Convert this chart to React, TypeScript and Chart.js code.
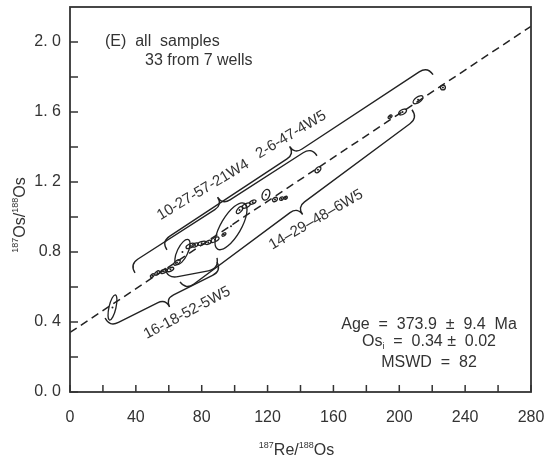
import React, { useEffect, useRef } from 'react';
import { Chart, registerables } from 'chart.js';

Chart.register(...registerables);

// ---- data ----
const xTickValues = [0, 40, 80, 120, 160, 200, 240, 280];
const yTickValues = [0, 0.4, 0.8, 1.2, 1.6, 2.0];
const yTickLabels = ['0. 0', '0. 4', '0.8', '1. 2', '1. 6', '2. 0'];

// samples: 187Re/188Os, 187Os/188Os, 2-sigma errors, error correlation
const reOs = [25.8, 50, 53, 57, 61, 65, 68.3, 73, 76, 80, 84, 88, 93.5, 97.8, 103, 107, 111, 119, 124.5, 128.5, 131, 150.6, 194.4, 202, 211.4, 226.5];
const osOs = [0.483, 0.665, 0.68, 0.69, 0.70, 0.74, 0.80, 0.835, 0.84, 0.85, 0.855, 0.87, 0.90, 0.947, 1.04, 1.065, 1.085, 1.127, 1.10, 1.105, 1.11, 1.27, 1.573, 1.60, 1.67, 1.74];
const errX = [2.7, 1.2, 1.5, 2.0, 2.0, 2.0, 4.6, 2.5, 2.0, 2.5, 2.0, 2.5, 1.2, 9.7, 2.0, 2.5, 2.0, 2.4, 1.5, 1.2, 1.0, 1.8, 1.2, 2.4, 3.0, 1.5];
const errY = [0.072, 0.010, 0.012, 0.012, 0.012, 0.015, 0.072, 0.015, 0.012, 0.012, 0.012, 0.015, 0.010, 0.134, 0.020, 0.015, 0.012, 0.030, 0.012, 0.010, 0.008, 0.017, 0.010, 0.017, 0.023, 0.014];
const errRho = [0.6, 0.5, 0.5, 0.5, 0.5, 0.6, 0.65, 0.6, 0.5, 0.5, 0.5, 0.6, 0.5, 0.7, 0.6, 0.6, 0.5, 0.3, 0.3, 0.3, 0.3, 0.5, 0.5, 0.5, 0.6, 0.0];

// isochron regression line
const isoX = [0, 280];
const isoY = [0.34, 2.09];

// well groups (braces) in data coordinates
const wellNames = ['10-27-57-21W4', '2-6-47-4W5', '16-18-52-5W5', '14\u201329\u201348\u20136W5'];
const braceStartX = [39.5, 58.9, 21.3, 66.8];
const braceStartY = [0.681, 0.812, 0.423, 0.629];
const braceEndX = [150.0, 220.5, 89.3, 207.7];
const braceEndY = [1.350, 1.813, 0.743, 1.613];
const braceTip = [0.51, 0.5, 0.5, 0.48];
const braceSide = [1, 1, -1, -1];
const labelX = [80.8, 134.2, 71.1, 149.4];
const labelY = [1.155, 1.47, 0.452, 0.984];
const labelAngle = [31, 31, 28, 30];

// small unlabeled bracket
const bracketX = [57.7, 89.3];
const bracketY = [0.709, 0.766];

const FONT = '"Liberation Sans", Arial, Helvetica, sans-serif';
const INK = '#333333';

function drawBrace(ctx: CanvasRenderingContext2D, ax: number, ay: number, bx: number, by: number,
  t: number, h: number, d: number, side: number) {
  const L = Math.hypot(bx - ax, by - ay);
  const ux = (bx - ax) / L, uy = (by - ay) / L;
  const nx = -uy * side, ny = ux * side;
  const base = (s: number) => [ax + ux * s - nx * h, ay + uy * s - ny * h];
  ctx.beginPath();
  ctx.moveTo(ax, ay);
  let p = base(h);
  ctx.quadraticCurveTo(ax - nx * h, ay - ny * h, p[0], p[1]);
  if (d > 0) {
    const s = t * L;
    p = base(s - d);
    ctx.lineTo(p[0], p[1]);
    const c = base(s);
    ctx.quadraticCurveTo(c[0], c[1], c[0] - nx * d, c[1] - ny * d);
    p = base(s + d);
    ctx.quadraticCurveTo(c[0], c[1], p[0], p[1]);
  }
  p = base(L - h);
  ctx.lineTo(p[0], p[1]);
  ctx.quadraticCurveTo(bx - nx * h, by - ny * h, bx, by);
  ctx.stroke();
}

function drawSup(ctx: CanvasRenderingContext2D, parts: [string, boolean][], x: number, y: number, big: number, small: number) {
  let cx = x;
  for (const [txt, sup] of parts) {
    ctx.font = `${sup ? small : big}px ${FONT}`;
    ctx.fillText(txt, cx, sup ? y - big * 0.42 : y);
    cx += ctx.measureText(txt).width;
  }
  return cx - x;
}
function measureSup(ctx: CanvasRenderingContext2D, parts: [string, boolean][], big: number, small: number) {
  let w = 0;
  for (const [txt, sup] of parts) {
    ctx.font = `${sup ? small : big}px ${FONT}`;
    w += ctx.measureText(txt).width;
  }
  return w;
}

const decorPlugin = {
  id: 'decor',
  afterDatasetsDraw(chart: any) {
    const { ctx, chartArea: ca } = chart;
    const xs = chart.scales.x, ys = chart.scales.y;
    const px = (v: number) => xs.getPixelForValue(v);
    const py = (v: number) => ys.getPixelForValue(v);
    ctx.save();
    // frame
    ctx.strokeStyle = INK;
    ctx.lineWidth = 1.8;
    ctx.strokeRect(ca.left, ca.top, ca.right - ca.left, ca.bottom - ca.top);
    // inward ticks
    ctx.lineWidth = 1.5;
    ctx.beginPath();
    for (const t of xs.ticks) {
      const X = px(t.value);
      ctx.moveTo(X, ca.bottom);
      ctx.lineTo(X, ca.bottom - 7);
    }
    for (const t of ys.ticks) {
      const Y = py(t.value);
      if (Y < ca.top + 2) continue;
      ctx.moveTo(ca.left, Y);
      ctx.lineTo(ca.left + 8, Y);
    }
    ctx.stroke();

    // error ellipses
    const kx = px(1) - px(0);
    const ky = py(0) - py(1);
    ctx.strokeStyle = '#222';
    ctx.lineWidth = 1.3;
    for (let i = 0; i < reOs.length; i++) {
      const cx = px(reOs[i]), cy = py(osOs[i]);
      const sx = errX[i] * kx, sy = errY[i] * ky;
      const a = sx * sx, c = sy * sy, b = -errRho[i] * sx * sy;
      const m = (a + c) / 2, r = Math.sqrt(((a - c) / 2) ** 2 + b * b);
      const l1 = Math.sqrt(m + r), l2 = Math.sqrt(Math.max(m - r, 0.3));
      const th = 0.5 * Math.atan2(2 * b, a - c);
      ctx.beginPath();
      ctx.ellipse(cx, cy, l1, l2, th, 0, Math.PI * 2);
      ctx.stroke();
    }

    // braces
    ctx.strokeStyle = '#222';
    ctx.lineWidth = 1.4;
    for (let i = 0; i < wellNames.length; i++) {
      drawBrace(ctx, px(braceStartX[i]), py(braceStartY[i]), px(braceEndX[i]), py(braceEndY[i]),
        braceTip[i], 10, 9, braceSide[i]);
    }
    drawBrace(ctx, px(bracketX[0]), py(bracketY[0]), px(bracketX[1]), py(bracketY[1]), 0.5, 11, 0, -1);

    // well labels
    ctx.fillStyle = INK;
    ctx.font = `15px ${FONT}`;
    ctx.textAlign = 'center';
    ctx.textBaseline = 'middle';
    for (let i = 0; i < wellNames.length; i++) {
      ctx.save();
      ctx.translate(px(labelX[i]), py(labelY[i]));
      ctx.rotate(-labelAngle[i] * Math.PI / 180);
      ctx.fillText(wellNames[i], 0, 0);
      ctx.restore();
    }

    // panel title
    ctx.textAlign = 'left';
    ctx.textBaseline = 'alphabetic';
    ctx.font = `16px ${FONT}`;
    ctx.fillText('(E)  all  samples', ca.left + 35, ca.top + 39);
    ctx.fillText('33 from 7 wells', ca.left + 75, ca.top + 58);

    // statistics block
    const cxs = ca.left + 359;
    ctx.textAlign = 'center';
    ctx.fillText('Age  =  373.9  \u00B1  9.4  Ma', cxs, ca.top + 322);
    const p1 = 'Os', p2 = 'i', p3 = '  =  0.34 \u00B1  0.02';
    ctx.font = `16px ${FONT}`;
    const w1 = ctx.measureText(p1).width, w3 = ctx.measureText(p3).width;
    ctx.font = `9px ${FONT}`;
    const w2 = ctx.measureText(p2).width;
    const sx0 = cxs - (w1 + w2 + w3) / 2;
    ctx.textAlign = 'left';
    ctx.font = `16px ${FONT}`;
    ctx.fillText(p1, sx0, ca.top + 339);
    ctx.font = `9px ${FONT}`;
    ctx.fillText(p2, sx0 + w1, ca.top + 342);
    ctx.font = `16px ${FONT}`;
    ctx.fillText(p3, sx0 + w1 + w2, ca.top + 339);
    ctx.textAlign = 'center';
    ctx.fillText('MSWD  =  82', cxs, ca.top + 360);

    // axis titles
    ctx.textAlign = 'left';
    const xt: [string, boolean][] = [['187', true], ['Re/', false], ['188', true], ['Os', false]];
    const wx = measureSup(ctx, xt, 16, 9);
    drawSup(ctx, xt, (ca.left + ca.right) / 2 - 4 - wx / 2, 455, 16, 9);
    const yt: [string, boolean][] = [['187', true], ['Os/', false], ['188', true], ['Os', false]];
    const wy = measureSup(ctx, yt, 16, 9);
    ctx.save();
    ctx.translate(25, 215);
    ctx.rotate(-Math.PI / 2);
    drawSup(ctx, yt, -wy / 2, 0, 16, 9);
    ctx.restore();

    ctx.restore();
  },
};

export default function App() {
  const ref = useRef<HTMLCanvasElement | null>(null);
  useEffect(() => {
    if (!ref.current) return;
    const chart = new Chart(ref.current, {
      type: 'scatter',
      data: {
        datasets: [
          {
            type: 'line',
            data: isoX.map((x, i) => ({ x, y: isoY[i] })),
            borderColor: '#222',
            borderWidth: 1.5,
            borderDash: [8, 5],
            pointRadius: 0,
            fill: false,
          } as any,
          {
            type: 'scatter',
            data: reOs.map((x, i) => ({ x, y: osOs[i] })),
            pointRadius: 1,
            pointBackgroundColor: '#222',
            pointBorderWidth: 0,
          },
        ],
      },
      options: {
        animation: false,
        responsive: true,
        maintainAspectRatio: false,
        devicePixelRatio: 1,
        layout: { padding: { top: 7, right: 17, left: 0, bottom: 0 } },
        plugins: { legend: { display: false }, tooltip: { enabled: false } },
        scales: {
          x: {
            type: 'linear',
            min: 0,
            max: 280,
            border: { display: false },
            grid: { display: false, drawTicks: false },
            ticks: {
              stepSize: 20,
              autoSkip: false,
              maxRotation: 0,
              padding: 16,
              color: INK,
              font: { family: FONT, size: 16 },
              callback: (v: any) => {
                const n = Math.round(Number(v));
                return xTickValues.includes(n) ? String(n) : '';
              },
            },
            afterFit: (s: any) => {
              s.height = 70;
              s.paddingLeft = 0; s.paddingRight = 0;
            },
          },
          y: {
            type: 'linear',
            min: 0,
            max: 2.2,
            border: { display: false },
            grid: { display: false, drawTicks: false },
            ticks: {
              stepSize: 0.2,
              autoSkip: false,
              padding: 9,
              color: INK,
              font: { family: FONT, size: 16 },
              callback: (v: any) => {
                const idx = yTickValues.findIndex((t) => Math.abs(t - Number(v)) < 1e-6);
                return idx >= 0 ? yTickLabels[idx] : '';
              },
            },
            afterFit: (s: any) => {
              s.width = 70;
              s.paddingTop = 0; s.paddingBottom = 0;
            },
          },
        },
      },
      plugins: [decorPlugin],
    });
    return () => chart.destroy();
  }, []);
  return (
    <div style={{ position: 'absolute', left: 0, top: 0, width: 548, height: 462, background: '#fff' }}>
      <canvas ref={ref} />
    </div>
  );
}
